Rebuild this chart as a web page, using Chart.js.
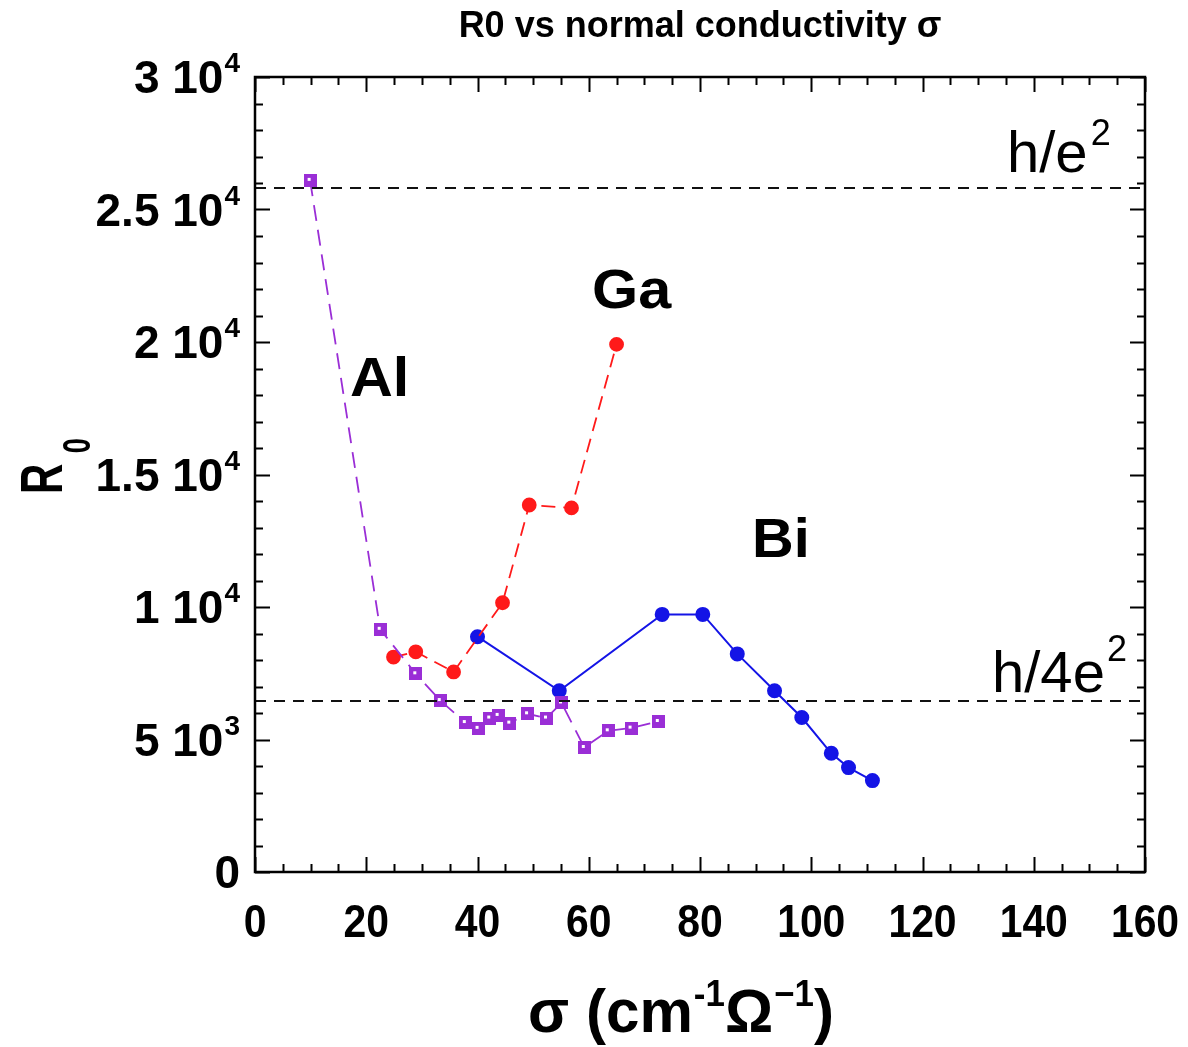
<!DOCTYPE html>
<html>
<head>
<meta charset="utf-8">
<title>R0 vs normal conductivity</title>
<script src="https://cdn.jsdelivr.net/npm/chart.js@4/dist/chart.umd.min.js"></script>
<style>
  body { margin: 0; background: #fff; }
  canvas { display: block; }
</style>
</head>
<body>
<canvas id="r0Chart" width="1188" height="1047"></canvas>
<script>
// Sample data: sigma in cm^-1 Ohm^-1, R0 in Ohm
const sigmaAl = [9.9, 22.5, 28.9, 33.3, 37.8, 40.1, 42.2, 43.7, 45.8, 49.0, 52.4, 55.1, 59.2, 63.5, 67.6, 72.5];
const r0Al = [26100, 9160, 7480, 6470, 5640, 5420, 5810, 5910, 5620, 5970, 5810, 6380, 4700, 5330, 5430, 5680];

const sigmaGa = [24.9, 28.9, 35.7, 44.5, 49.3, 56.9, 65.0];
const r0Ga = [8110, 8310, 7550, 10160, 13850, 13740, 19910];

const sigmaBi = [40.0, 54.7, 73.2, 80.5, 86.7, 93.4, 98.3, 103.6, 106.7, 111.0];
const r0Bi = [8880, 6840, 9720, 9720, 8230, 6840, 5830, 4480, 3940, 3450];

// Quantum resistances h/e^2 and h/4e^2
const hOverE2 = 25813;
const hOver4E2 = 6453;

// Axis ticks
const xTicks = [0, 20, 40, 60, 80, 100, 120, 140, 160];
const yTicks = [0, 5000, 10000, 15000, 20000, 25000, 30000];
const yTickLabels = [['0', ''], ['5 10', '3'], ['1 10', '4'], ['1.5 10', '4'], ['2 10', '4'], ['2.5 10', '4'], ['3 10', '4']];

const toPoints = (xs, ys) => xs.map((x, i) => ({ x: x, y: ys[i] }));

const SANS = '"Liberation Sans", Arial, sans-serif';

// purple square marker with a small white fleck
const alMarker = document.createElement('canvas');
alMarker.width = 13;
alMarker.height = 13;
(function () {
  const m = alMarker.getContext('2d');
  m.fillStyle = '#9a2ed6';
  m.fillRect(0, 0, 13, 13);
  m.fillStyle = '#ffffff';
  m.fillRect(4, 4, 3, 3);
})();

// draws a run of text pieces; each piece is [text, size, dy, gap]
// sx squeezes or stretches the run horizontally
function drawRun(ctx, pieces, x, y, weight, align, sx) {
  sx = sx || 1;
  let total = 0;
  const widths = pieces.map(p => {
    ctx.font = weight + ' ' + p[1] + 'px ' + SANS;
    const w = ctx.measureText(p[0]).width + (p[3] || 0);
    total += w;
    return w;
  });
  ctx.save();
  ctx.translate(x, y);
  ctx.scale(sx, 1);
  let cx = align === 'right' ? -total : align === 'center' ? -total / 2 : 0;
  ctx.textAlign = 'left';
  ctx.textBaseline = 'alphabetic';
  pieces.forEach((p, i) => {
    ctx.font = weight + ' ' + p[1] + 'px ' + SANS;
    ctx.fillText(p[0], cx + (p[3] || 0), p[2] || 0);
    cx += widths[i];
  });
  ctx.restore();
}

const framePlugin = {
  id: 'frame',
  afterDraw(chart) {
    const ctx = chart.ctx;
    const area = chart.chartArea;
    const xs = chart.scales.x;
    const ys = chart.scales.y;
    ctx.save();
    ctx.fillStyle = '#000';
    ctx.strokeStyle = '#000';

    // box
    ctx.lineWidth = 2.5;
    ctx.strokeRect(area.left, area.top, area.right - area.left, area.bottom - area.top);

    // inward ticks on all four sides
    ctx.lineWidth = 2;
    ctx.beginPath();
    for (let v = 0; v <= 160; v += 5) {
      const px = Math.round(xs.getPixelForValue(v)) + 0.5;
      const len = v % 20 === 0 ? 15 : 8;
      ctx.moveTo(px, area.bottom); ctx.lineTo(px, area.bottom - len);
      ctx.moveTo(px, area.top); ctx.lineTo(px, area.top + len);
    }
    for (let v = 0; v <= 30000; v += 1000) {
      const py = Math.round(ys.getPixelForValue(v)) + 0.5;
      const len = v % 5000 === 0 ? 15 : 8;
      ctx.moveTo(area.left, py); ctx.lineTo(area.left + len, py);
      ctx.moveTo(area.right, py); ctx.lineTo(area.right - len, py);
    }
    ctx.stroke();

    // x tick labels (condensed)
    xTicks.forEach(v => {
      drawRun(ctx, [[String(v), 47]], xs.getPixelForValue(v), 937, 'bold', 'center', 0.87);
    });

    // y tick labels with power-of-ten exponent
    yTicks.forEach((v, i) => {
      const lab = yTickLabels[i];
      const pieces = [[lab[0], 46]];
      if (lab[1]) pieces.push([lab[1], 28, -21, 1]);
      drawRun(ctx, pieces, 240, ys.getPixelForValue(v) + 16, 'bold', 'right');
    });

    // title
    drawRun(ctx, [['R0 vs normal conductivity \u03c3', 36]], 700, 37, 'bold', 'center');

    // x axis title
    drawRun(ctx, [['\u03c3 (cm', 62], ['-1', 36, -26, 1], ['\u03a9', 62], ['\u22121', 36, -26, 1], [')', 62]],
      681, 1032, 'bold', 'center', 0.97);

    // y axis title, rotated: R with subscript 0
    ctx.save();
    ctx.translate(62, 494);
    ctx.rotate(-Math.PI / 2);
    drawRun(ctx, [['R', 60], ['0', 39, 28, 15]], 0, 0, 'bold', 'left', 0.7);
    ctx.restore();

    // series labels
    drawRun(ctx, [['Al', 56]], 350, 396, 'bold', 'left', 1.06);
    drawRun(ctx, [['Ga', 56]], 592, 308, 'bold', 'left', 1.06);
    drawRun(ctx, [['Bi', 56]], 752, 557, 'bold', 'left', 1.03);

    // reference line labels
    drawRun(ctx, [['h/e', 58], ['2', 36, -27, 3]], 1007, 172, 'normal', 'left');
    drawRun(ctx, [['h/4e', 58], ['2', 36, -31, 2]], 992, 692, 'normal', 'left');

    ctx.restore();
  }
};

const chart = new Chart(document.getElementById('r0Chart').getContext('2d'), {
  type: 'scatter',
  data: {
    datasets: [
      {
        label: 'h/e2',
        data: [{ x: 0, y: hOverE2 }, { x: 160, y: hOverE2 }],
        showLine: true,
        borderColor: '#111',
        borderWidth: 2,
        borderDash: [11, 8],
        pointRadius: 0
      },
      {
        label: 'h/4e2',
        data: [{ x: 0, y: hOver4E2 }, { x: 160, y: hOver4E2 }],
        showLine: true,
        borderColor: '#111',
        borderWidth: 2,
        borderDash: [11, 8],
        pointRadius: 0
      },
      {
        label: 'Al',
        data: toPoints(sigmaAl, r0Al),
        showLine: true,
        borderColor: '#9a2ed6',
        borderWidth: 1.8,
        borderDash: [16, 9],
        pointStyle: alMarker,
        pointRadius: 7
      },
      {
        label: 'Ga',
        data: toPoints(sigmaGa, r0Ga),
        showLine: true,
        borderColor: '#ff1a1a',
        borderWidth: 1.8,
        borderDash: [14, 8],
        pointRadius: 6.5,
        pointBackgroundColor: '#ff1a1a',
        pointBorderColor: '#ff1a1a'
      },
      {
        label: 'Bi',
        data: toPoints(sigmaBi, r0Bi),
        showLine: true,
        borderColor: '#1414e6',
        borderWidth: 2,
        pointRadius: 6.5,
        pointBackgroundColor: '#1414e6',
        pointBorderColor: '#1414e6'
      }
    ]
  },
  options: {
    responsive: false,
    animation: false,
    layout: { padding: { left: 255, right: 43, top: 77, bottom: 175 } },
    plugins: {
      legend: { display: false },
      tooltip: { enabled: false }
    },
    scales: {
      x: { type: 'linear', min: 0, max: 160, display: false },
      y: { type: 'linear', min: 0, max: 30000, display: false }
    }
  },
  plugins: [framePlugin]
});
</script>
</body>
</html>
